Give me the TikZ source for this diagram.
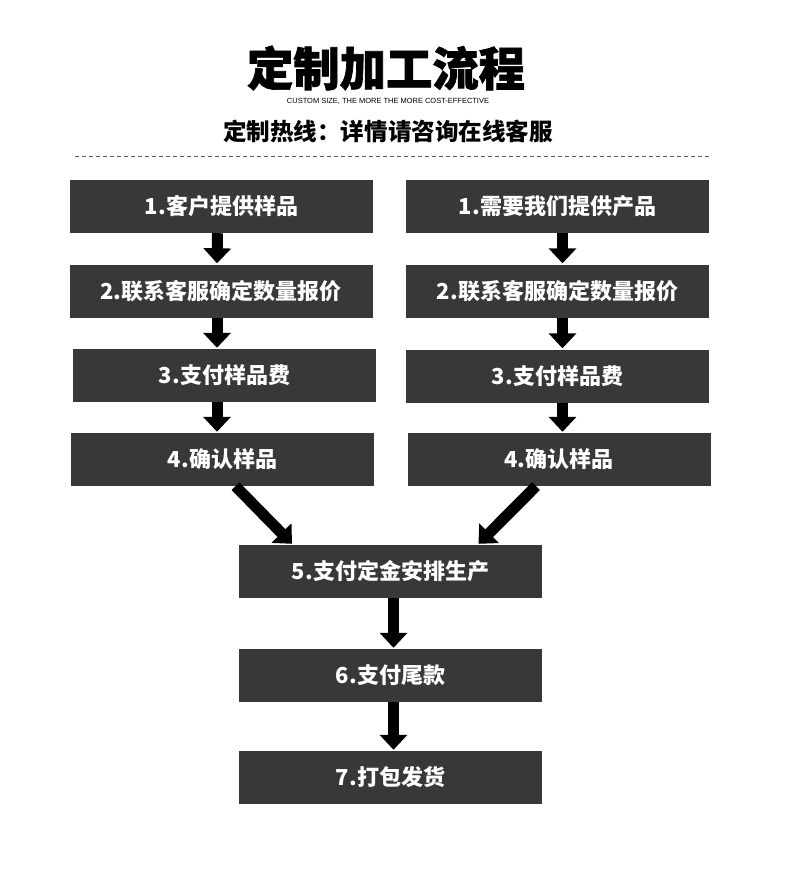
\documentclass[tikz,border=0pt]{standalone}
\usepackage{fontspec}
\newfontfamily\cjk{Noto Sans CJK SC}
\setsansfont{Liberation Sans}
\usetikzlibrary{arrows.meta}
\definecolor{boxfill}{RGB}{58,56,54}
\definecolor{dashgray}{RGB}{90,90,90}
\tikzset{
  stepbox/.style={fill=boxfill, draw=none, minimum width=303pt, minimum height=53pt, inner sep=0pt,
    text=white, font=\cjk\bfseries\fontsize{22}{22}\selectfont},
  arr/.style={draw=black, line width=11pt, -{Triangle[width=27pt,length=15pt]}, shorten <=0pt},
  ttl/.style={inner sep=0pt, text=black}
}
\begin{document}
\begin{tikzpicture}[x=1pt,y=-1pt]
\useasboundingbox (0,0) rectangle (790,889);
\fill[white] (0,0) rectangle (790,889);
% header
\node[ttl] (title) at (386,68) {\resizebox{278pt}{!}{\cjk\bfseries\addfontfeatures{FakeBold=1.5}\fontsize{46}{46}\selectfont 定制加工流程}};
\node[ttl] (sub) at (388,101) {\resizebox{202pt}{!}{\sffamily\fontsize{8}{8}\selectfont CUSTOM SIZE, THE MORE THE MORE COST-EFFECTIVE}};
\node[ttl] (hot) at (388,131) {\resizebox{330pt}{!}{\cjk\bfseries\fontsize{22}{22}\selectfont 定制热线：详情请咨询在线客服}};
\coordinate (dl) at (75,156);
\coordinate (dr) at (711,156);
\draw[dashgray, line width=1pt, dash pattern=on 4pt off 3pt] (dl) -- (dr);
% left column
\node[stepbox] (l1) at (221.5,206.5) {1.客户提供样品};
\node[stepbox] (l2) at (221,291) {2.联系客服确定数量报价};
\node[stepbox] (l3) at (224.5,375.5) {3.支付样品费};
\node[stepbox] (l4) at (222.5,459.5) {4.确认样品};
% right column
\node[stepbox] (r1) at (557.5,206.5) {1.需要我们提供产品};
\node[stepbox] (r2) at (557.5,291) {2.联系客服确定数量报价};
\node[stepbox] (r3) at (557.5,376) {3.支付样品费};
\node[stepbox] (r4) at (559,459.5) {4.确认样品};
% center
\node[stepbox] (c5) at (390.5,571.5) {5.支付定金安排生产};
\node[stepbox] (c6) at (390.5,675.5) {6.支付尾款};
\node[stepbox] (c7) at (390.5,777.5) {7.打包发货};
% arrows
\draw[arr] ([xshift=-4pt]l1.south) -- ([xshift=-4pt,yshift=1pt]l2.north);
\draw[arr] ([xshift=-4pt]l2.south) -- ([xshift=-7.5pt,yshift=1pt]l3.north);
\draw[arr] ([xshift=-7.5pt]l3.south) -- ([xshift=-5.5pt,yshift=1pt]l4.north);
\draw[arr] ([xshift=5pt]r1.south) -- ([xshift=5pt,yshift=1pt]r2.north);
\draw[arr] ([xshift=5pt]r2.south) -- ([xshift=5pt,yshift=1pt]r3.north);
\draw[arr] ([xshift=5pt]r3.south) -- ([xshift=3.5pt,yshift=1pt]r4.north);
\draw[arr] ([xshift=13pt]l4.south) -- ([xshift=-98.5pt,yshift=1pt]c5.north);
\draw[arr] ([xshift=-23pt]r4.south) -- ([xshift=88pt,yshift=1pt]c5.north);
\draw[arr] ([xshift=3pt]c5.south) -- ([xshift=3pt,yshift=1pt]c6.north);
\draw[arr] ([xshift=3pt]c6.south) -- ([xshift=3pt,yshift=1pt]c7.north);
\end{tikzpicture}
\end{document}
